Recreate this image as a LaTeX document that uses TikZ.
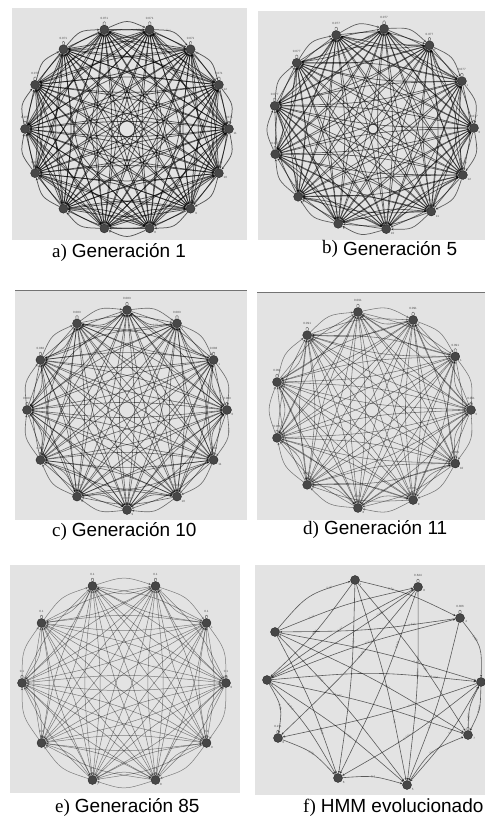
\documentclass[tikz,border=0pt]{standalone}
\usepackage{fontspec}
\setmainfont{Liberation Serif}
\newfontfamily\capsans{Liberation Sans}
\usepackage{tikz}
\usetikzlibrary{arrows.meta,calc}
\pgfdeclarelayer{bg}
\pgfdeclarelayer{edges}
\pgfsetlayers{bg,edges,main}

\begin{document}
\begin{tikzpicture}[x=1pt,y=1pt,
    hstate/.style={circle,fill=black!72,draw=black!88,line width=0.3pt,inner sep=0pt,minimum size=9pt},
    panel/.style={fill=black!11},
    trans/.style={draw=black,opacity=#1,-{Stealth[length=2.6pt,width=2.2pt]}},
    trans/.default=0.55,
    hbend/.style={to path={.. controls ($(\tikztostart)!0.5!(\tikztotarget)!#1!90:(\tikztotarget)$) .. (\tikztotarget) \tikztonodes}},
    hbend/.default=10pt,
    selfloop/.style={draw=black!65,line width=0.4pt,loop above,min distance=4pt,looseness=5},
    wlbl/.style={font=\capsans\fontsize{2}{2.4}\selectfont,text=black!75,inner sep=0.2pt,sloped,pos=0.33},
    flbl/.style={wlbl,font=\capsans\fontsize{3}{3.5}\selectfont},
    vlbl/.style={font=\capsans\fontsize{3}{3.5}\selectfont,text=black!70,inner sep=0.3pt,label distance=5pt},
    ilbl/.style={font=\capsans\fontsize{3}{3.5}\selectfont,text=black!70,inner sep=0.3pt,label distance=0.5pt},
    caption/.style={anchor=base west,inner sep=0pt,font=\fontsize{19}{22}\selectfont}]

  \clip (0,0) rectangle (485,820);

  % grey panels behind the graphs
  \begin{pgfonlayer}{bg}
    \fill[panel] (12,580) rectangle (247,812);
    \fill[panel] (258,580) rectangle (485,809);
    \fill[panel] (15,300) rectangle (247,530);
    \fill[panel] (257,300) rectangle (485,528);
    \fill[panel] (10,27) rectangle (240,255);
    \fill[panel] (255,25) rectangle (485,255);
    \draw[black!55,line width=0.8pt] (15,530) -- (247,530);
    \draw[black!55,line width=0.8pt] (257,528) -- (485,528);
  \end{pgfonlayer}

  % complete graphs: generations 1, 5, 10, 11 and 85
  \foreach \p/\cx/\cy/\rr/\n/\off/\val/\op/\lw/\lp in {
      a/127/691/102/14/77.14/0.071/0.62/0.75/0.33,
      b/373/691/101/13/0.6/0.077/0.58/0.7/0.3,
      c/127/410/100/12/0/0.083/0.52/0.62/0.33,
      d/372/410/99/11/0/0.091/0.48/0.55/0.33,
      e/124/137/102/10/0/0.1/0.45/0.5/0.33}{
    \foreach \i in {1,...,\n}{
      \pgfmathsetmacro\ang{\off+(\i-1)*360/\n}
      \pgfmathtruncatemacro\k{\i-1}
      \node[hstate,label={[vlbl]90:\val},label={[ilbl]-35:\k}] (\p\i) at ($(\cx,\cy)+(\ang:\rr)$) {};
      \draw[selfloop] (\p\i) to (\p\i);
    }
    \begin{pgfonlayer}{edges}
      \foreach \i in {1,...,\n}
        \foreach \j in {1,...,\n}{
          \ifnum\i<\j
            \draw[trans=\op,line width=\lw pt] (\p\i) to[hbend] node[wlbl,pos=\lp]{\val} (\p\j);
          \else\ifnum\i>\j
            \draw[trans=\op,line width=\lw pt] (\p\i) to[hbend] (\p\j);
          \fi\fi}
    \end{pgfonlayer}
  }

  % evolved HMM
  \node[hstate,label={[ilbl]-35:1}]                      (f1) at (355,240) {};
  \node[hstate,label={[vlbl]90:0.644},label={[ilbl]-20:8}] (f8) at (418,233) {};
  \node[hstate,label={[vlbl]90:0.306},label={[ilbl]-20:4}] (f4) at (460,202) {};
  \node[hstate,label={[ilbl]-35:2}]                      (f2) at (275,188) {};
  \node[hstate,label={[ilbl]-35:3}]                      (f3) at (267,140) {};
  \node[hstate,label={[ilbl]-120:9}]                     (f9) at (481,138) {};
  \node[hstate,label={[ilbl]-20:7}]                      (f7) at (468,85) {};
  \node[hstate,label={[vlbl]90:0.211},label={[ilbl]-35:0}] (f0) at (278,82) {};
  \node[hstate,label={[ilbl]-30:6}]                      (f6) at (338,42) {};
  \node[hstate,label={[ilbl]-30:5}]                      (f5) at (407,35) {};

  \foreach \s in {f8,f4,f0,f7}
    \draw[selfloop] (\s) to (\s);

  \begin{pgfonlayer}{edges}
    \path[trans=0.6,line width=0.6pt,every node/.style={flbl}]
    (f2) edge[hbend=14pt] node[pos=0.8]  {0.36}  (f1)
    (f1) edge[hbend=6pt]  node[pos=0.27] {0.38}  (f4)
    (f2) edge[hbend=6pt]  node[pos=0.2]  {0.21}  (f8)
    (f4) edge[hbend=6pt]  node[pos=0.2]  {0.414} (f2)
    (f8) edge[hbend=6pt]  node[pos=0.2]  {0.292} (f3)
    (f8) edge[hbend=6pt]  node[pos=0.4]  {0.398} (f0)
    (f8) edge[hbend=6pt]  node[pos=0.24] {0.414} (f6)
    (f8) edge[hbend=6pt]  node[pos=0.42] {0.01}  (f5)
    (f1) edge[hbend=6pt]  node[pos=0.26] {0.154} (f6)
    (f1) edge[hbend=6pt]  node[pos=0.75] {0.1}   (f5)
    (f1) edge[hbend=6pt]  node[pos=0.62] {0.353} (f7)
    (f1) edge[hbend=6pt]  node[pos=0.5]  {0.02}  (f3)
    (f2) edge[hbend=6pt]  node[pos=0.74] {0.644} (f9)
    (f2) edge[hbend=6pt]  node[pos=0.27] {0.449} (f5)
    (f2) edge[hbend=6pt]  node[pos=0.75] {0.031} (f6)
    (f2) edge[hbend=6pt]  node[pos=0.6]  {0.12}  (f7)
    (f3) edge[hbend=10pt] node[pos=0.84] {0.393} (f9)
    (f3) edge[hbend=6pt]  node[pos=0.3]  {0.432} (f7)
    (f3) edge[hbend=6pt]  node[pos=0.23] {0.318} (f6)
    (f3) edge[hbend=6pt]  node[pos=0.6]  {0.1}   (f5)
    (f3) edge[hbend=6pt]  node[pos=0.5]  {0.17}  (f8)
    (f3) edge[hbend=6pt]  node[pos=0.55] {0.014} (f4)
    (f4) edge[hbend=12pt] node[pos=0.3]  {0.593} (f9)
    (f4) edge[hbend=6pt]  node[pos=0.7]  {0.1}   (f5)
    (f9) edge[hbend=6pt]  node[pos=0.3]  {0.17}  (f0)
    (f9) edge[hbend=6pt]  node[pos=0.55] {0.031} (f6)
    (f9) edge[hbend=6pt]  node[pos=0.45] {0.1}   (f5)
    (f9) edge[hbend=6pt]  node[pos=0.5]  {0.303} (f7)
    (f7) edge[hbend=6pt]  node[pos=0.23] {0.524} (f9)
    (f0) edge[hbend=8pt]  node[pos=0.5]  {0.09}  (f6)
    (f3) edge[hbend=10pt] node[pos=0.5]  {0.05}  (f0)
    (f6) edge[hbend=6pt]  node[pos=0.5]  {0.4}   (f5)
    (f5) edge[hbend=12pt] node[pos=0.5]  {0.1}   (f7);
  \end{pgfonlayer}

  % captions
  \node[caption] (capa) at (52,562)  {a)\hspace{5pt}{\capsans Generación 1}};
  \node[caption] (capb) at (322,564) {\raisebox{2pt}{b)}\hspace{5pt}{\capsans Generación 5}};
  \node[caption] (capc) at (52,283)  {c)\hspace{5pt}{\capsans Generación 10}};
  \node[caption] (capd) at (303,285) {d)\hspace{5pt}{\capsans Generación 11}};
  \node[caption] (cape) at (55,8)    {e)\hspace{5pt}{\capsans Generación 85}};
  \node[caption] (capf) at (303,8)   {f)\hspace{5pt}{\capsans HMM evolucionado}};
\end{tikzpicture}
\end{document}
